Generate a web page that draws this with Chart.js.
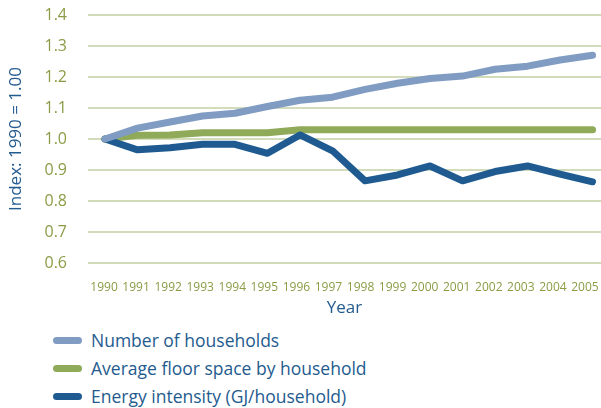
<!DOCTYPE html>
<html>
<head>
<meta charset="utf-8">
<script src="https://cdn.jsdelivr.net/npm/chart.js@4"></script>
<style>
  body { margin: 0; background: #fff; overflow: hidden; }
  #wrap { position: relative; width: 601px; height: 408px; }
  #legend { position: absolute; left: 53px; top: 326px; font-family: "Open Sans", sans-serif; font-size: 17.5px; color: #245b8e; }
  .row { height: 28px; display: flex; align-items: center; }
  .sw { width: 29px; height: 7px; border-radius: 4px; margin-right: 9px; }
</style>
</head>
<body>
<div id="wrap">
  <canvas id="chart" width="601" height="320"></canvas>
  <div id="legend"></div>
</div>
<script>
const years = [1990, 1991, 1992, 1993, 1994, 1995, 1996, 1997, 1998, 1999, 2000, 2001, 2002, 2003, 2004, 2005];
const households = [1.00, 1.035, 1.055, 1.074, 1.083, 1.105, 1.125, 1.135, 1.16, 1.18, 1.195, 1.203, 1.225, 1.235, 1.255, 1.27];
const floorSpace = [1.00, 1.012, 1.013, 1.02, 1.02, 1.02, 1.03, 1.03, 1.03, 1.03, 1.03, 1.03, 1.03, 1.03, 1.03, 1.03];
const energy = [1.00, 0.965, 0.972, 0.983, 0.983, 0.954, 1.013, 0.962, 0.865, 0.884, 0.913, 0.865, 0.895, 0.913, 0.887, 0.862];
const yTicks = [0.6, 0.7, 0.8, 0.9, 1.0, 1.1, 1.2, 1.3, 1.4];

const series = [
  { label: 'Number of households', data: households, color: '#809cc3', order: 0 },
  { label: 'Average floor space by household', data: floorSpace, color: '#8faa59', order: 2 },
  { label: 'Energy intensity (GJ/household)', data: energy, color: '#1f5b91', order: 1 }
];

const green = '#8a9c45';
const blue = '#245b8e';

new Chart(document.getElementById('chart'), {
  type: 'line',
  data: {
    labels: years,
    datasets: series.map(s => ({
      label: s.label,
      data: s.data.map((v, i) => ({ x: years[i], y: v })),
      xAxisID: 'x',
      borderColor: s.color,
      backgroundColor: s.color,
      borderWidth: 7,
      borderCapStyle: 'round',
      borderJoinStyle: 'round',
      pointRadius: 0,
      order: s.order
    }))
  },
  options: {
    responsive: false,
    animation: false,
    layout: { padding: { left: 0, right: 0, top: 15, bottom: 0 } },
    plugins: { legend: { display: false }, tooltip: { enabled: false } },
    scales: {
      // data axis, no labels
      x: {
        type: 'linear',
        position: 'bottom',
        min: 1989.477,
        max: 2005.26,
        grid: { display: false },
        border: { display: false },
        ticks: { display: false },
        afterFit: scale => {
          scale.height = 0;
          scale.paddingLeft = 0;
          scale.paddingRight = 0;
        }
      },
      // year labels
      x2: {
        type: 'category',
        position: 'bottom',
        labels: years,
        offset: true,
        grid: { display: false },
        border: { display: false },
        afterFit: scale => {
          scale.height = 57;
          scale.paddingLeft = 0;
          scale.paddingRight = 0;
        },
        ticks: {
          color: green,
          font: { family: '"Open Sans", sans-serif', size: 12 },
          padding: 9,
          autoSkip: false,
          maxRotation: 0
        },
        title: {
          display: true,
          text: 'Year',
          color: blue,
          font: { family: '"Open Sans", sans-serif', size: 17 },
          padding: { top: 0, bottom: 2 }
        }
      },
      y: {
        min: 0.6,
        max: 1.4,
        afterBuildTicks: axis => { axis.ticks = yTicks.map(v => ({ value: v })); },
        afterFit: scale => {
          scale.width = 88;
          scale.paddingTop = 0;
          scale.paddingBottom = 0;
        },
        grid: { color: '#d2dcbb', lineWidth: 2, drawTicks: false },
        border: { display: false },
        ticks: {
          color: green,
          font: { family: '"Open Sans", sans-serif', size: 16 },
          padding: 21,
          callback: v => v.toFixed(1)
        },
        title: {
          display: true,
          text: 'Index: 1990 = 1.00',
          color: blue,
          font: { family: '"Open Sans", sans-serif', size: 17 },
          padding: { top: 6, bottom: 0 }
        }
      }
    }
  }
});

const legend = document.getElementById('legend');
series.forEach(s => {
  const row = document.createElement('div');
  row.className = 'row';
  row.innerHTML = '<span class="sw" style="background:' + s.color + '"></span><span>' + s.label + '</span>';
  legend.appendChild(row);
});
</script>
</body>
</html>
